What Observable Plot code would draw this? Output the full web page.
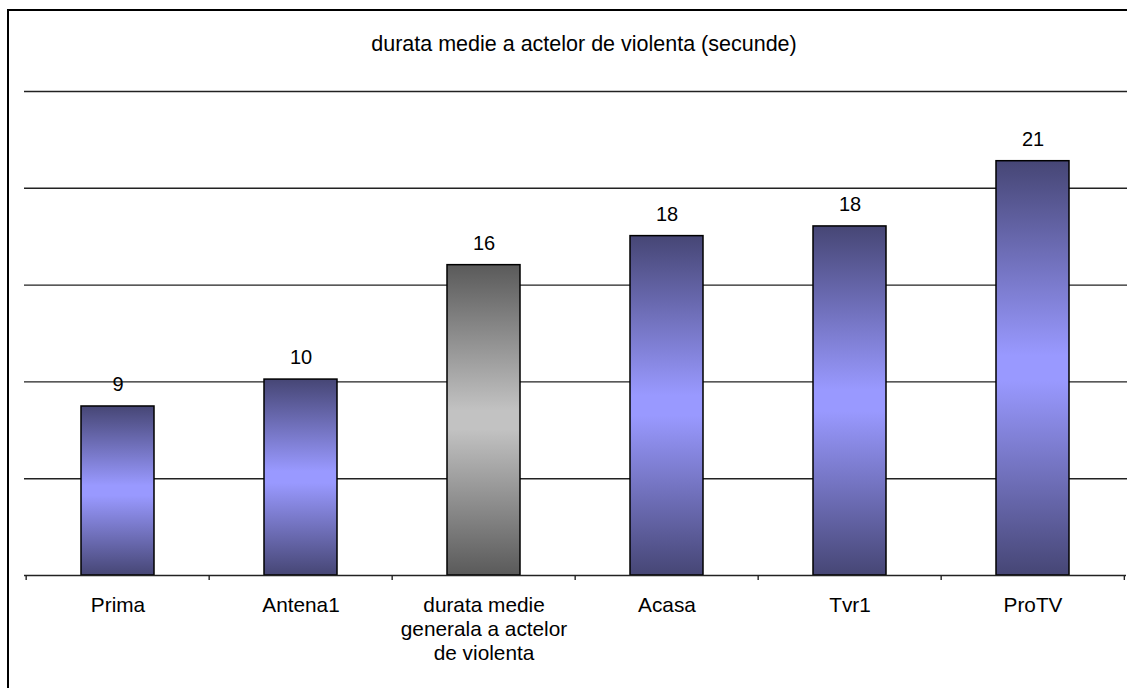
<!DOCTYPE html>
<html>
<head>
<meta charset="utf-8">
<script src="https://cdn.jsdelivr.net/npm/d3@7"></script>
<script src="https://cdn.jsdelivr.net/npm/@observablehq/plot@0.6"></script>
<style>
  html, body { margin: 0; padding: 0; background: #fff; width: 1127px; height: 688px; overflow: hidden; }
  #wrap { position: relative; width: 1127px; height: 688px; font-family: "Liberation Sans", Arial, sans-serif; color: #000; }
  #border { position: absolute; left: 7px; top: 9px; width: 1300px; height: 900px; border-left: 2px solid #000; border-top: 2px solid #000; box-sizing: border-box; pointer-events: none; }
  #title { position: absolute; left: 0; top: 32px; width: 1168px; height: 24px; line-height: 24px; font-size: 21.5px; text-align: center; white-space: nowrap; }
  #chart { position: absolute; left: 0; top: 70px; }
</style>
</head>
<body>
<div id="wrap">
  <div id="border"></div>
  <div id="title">durata medie a actelor de violenta (secunde)</div>
  <div id="chart"></div>
</div>
<script>
const categories = ["Prima", "Antena1", "durata medie generala a actelor de violenta", "Acasa", "Tvr1", "ProTV"];
const tickLabels = ["Prima", "Antena1", "durata medie\ngenerala a actelor\nde violenta", "Acasa", "Tvr1", "ProTV"];
const values = [8.73, 10.12, 16.03, 17.53, 18.03, 21.4];
const valueLabels = ["9", "10", "16", "18", "18", "21"];
const barKinds = ["canal", "canal", "medie", "canal", "canal", "canal"];
const gridValues = [5, 10, 15, 20, 25];

const data = categories.map((c, i) => ({category: c, value: values[i], label: valueLabels[i], kind: barKinds[i]}));

const W = 1127, H = 618, mL = 24, mR = 1;
const step = (W - mL - mR) / categories.length;

const plot = Plot.plot({
  width: W,
  height: H,
  marginTop: 21,
  marginBottom: 113,
  marginLeft: mL,
  marginRight: mR,
  x: {domain: categories, padding: 0},
  y: {domain: [0, 25], axis: null},
  color: {type: "identity"},
  style: {fontSize: "20px", fontFamily: "'Liberation Sans', Arial, sans-serif", color: "#000", background: "transparent", overflow: "visible"},
  marks: [
    Plot.ruleY(gridValues, {stroke: "#222", strokeWidth: 1.4, insetRight: -1}),
    Plot.barY(data, {
      x: "category", y: "value",
      fill: d => d.kind === "medie" ? "url(#gradGray)" : "url(#gradBlue)",
      stroke: "#000", strokeWidth: 1.5,
      insetLeft: 55, insetRight: 55
    }),
    Plot.ruleY([0], {stroke: "#222", strokeWidth: 1.4}),
    Plot.ruleX(categories, {x: d => d, y1: 0, y2: 0, insetBottom: -5, dx: -step / 2, stroke: "#222", strokeWidth: 1.4}),
    Plot.ruleX([categories[categories.length - 1]], {x: d => d, y1: 0, y2: 0, insetBottom: -5, dx: step / 2 - 0.5, stroke: "#222", strokeWidth: 1.4}),
    Plot.text(data, {x: "category", y: "value", text: "label", dy: -22, fontSize: 20, fill: "#000"}),
    Plot.axisX({
      tickSize: 0, tickPadding: 20, lineAnchor: "top", lineHeight: 1.15, fontSize: 20.8,
      tickFormat: d => tickLabels[categories.indexOf(d)], label: null, fill: "#000"
    })
  ]
});

const defs = d3.select(plot).insert("defs", ":first-child");
function grad(id, dark, light) {
  const g = defs.append("linearGradient").attr("id", id).attr("x1", 0).attr("y1", 0).attr("x2", 0).attr("y2", 1);
  g.append("stop").attr("offset", "0%").attr("stop-color", dark);
  g.append("stop").attr("offset", "47%").attr("stop-color", light);
  g.append("stop").attr("offset", "53%").attr("stop-color", light);
  g.append("stop").attr("offset", "100%").attr("stop-color", dark);
}
grad("gradBlue", "#464675", "#9999ff");
grad("gradGray", "#5a5a5a", "#c2c2c2");

document.getElementById("chart").appendChild(plot);
</script>
</body>
</html>
